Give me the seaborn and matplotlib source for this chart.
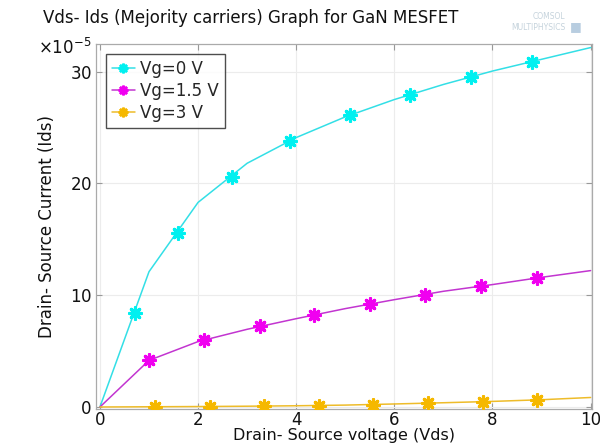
import matplotlib
matplotlib.use("Agg")
import matplotlib.pyplot as plt
import seaborn as sns
import pandas as pd
import numpy as np
from matplotlib.lines import Line2D
from matplotlib.ticker import ScalarFormatter

# ---- data (current in units of 1e-5) ----
line_vds = [0, 1, 2, 3, 4, 5, 6, 7, 8, 9, 10]
ids_vg0_line = [0, 12.1, 18.3, 21.8, 24.1, 25.95, 27.5, 28.85, 30.05, 31.1, 32.15]
ids_vg15_line = [0, 4.17, 5.85, 6.95, 7.9, 8.8, 9.6, 10.35, 10.95, 11.6, 12.2]
ids_vg3_line = [0, 0.02, 0.04, 0.07, 0.11, 0.17, 0.27, 0.38, 0.5, 0.65, 0.85]

mk_vg0_x = [0.72, 1.59, 2.69, 3.87, 5.09, 6.32, 7.56, 8.80]
mk_vg0_y = [8.4, 15.6, 20.6, 23.8, 26.1, 27.95, 29.55, 30.9]
mk_vg15_x = [1.01, 2.13, 3.26, 4.37, 5.50, 6.63, 7.76, 8.90]
mk_vg15_y = [4.17, 5.95, 7.2, 8.27, 9.22, 10.05, 10.8, 11.5]
mk_vg3_x = [1.13, 2.24, 3.35, 4.46, 5.57, 6.68, 7.80, 8.91]
mk_vg3_y = [0.02, 0.04, 0.08, 0.13, 0.22, 0.34, 0.48, 0.63]

series_names = ["Vg=0 V", "Vg=1.5 V", "Vg=3 V"]
line_colors = ["#33dfe6", "#c235d0", "#eebc2a"]
marker_colors = ["#00f0f0", "#f000f0", "#f5b800"]
x_ticks = [0, 2, 4, 6, 8, 10]
y_ticks = [0, 10, 20, 30]
SCALE = 1e-5

sns.set_style("white")
plt.rcParams['font.family'] = ['DejaVu Sans']

fig = plt.figure(figsize=(6.0, 4.47), dpi=100)
ax = fig.add_axes([0.16, 0.0845, 0.826, 0.8171])

lines = [ids_vg0_line, ids_vg15_line, ids_vg3_line]
mks = [(mk_vg0_x, mk_vg0_y), (mk_vg15_x, mk_vg15_y), (mk_vg3_x, mk_vg3_y)]
marker = (8, 2, 0)
handles = []
for name, lc, mc, ly, (mx, my) in zip(series_names, line_colors, marker_colors, lines, mks):
    df = pd.DataFrame({"x": line_vds, "y": np.array(ly) * SCALE})
    sns.lineplot(data=df, x="x", y="y", ax=ax, color=lc, linewidth=1.1, zorder=3)
    dm = pd.DataFrame({"x": mx, "y": np.array(my) * SCALE})
    sns.scatterplot(data=dm, x="x", y="y", ax=ax, marker=marker, s=70,
                    color=mc, edgecolor=mc, linewidth=2.3, zorder=4)
    handles.append(Line2D([0], [0], color=lc, lw=1.1, marker=marker, markersize=7,
                          markeredgecolor=mc, markerfacecolor=mc, markeredgewidth=1.8,
                          label=name))

ax.set_xlim(-0.08, 10.02)
ax.set_ylim(-0.2 * SCALE, 32.47 * SCALE)
ax.set_xticks(x_ticks)
ax.set_yticks([v * SCALE for v in y_ticks])
fmt = ScalarFormatter(useMathText=True)
fmt.set_powerlimits((-5, -5))
ax.yaxis.set_major_formatter(fmt)
ax.yaxis.get_offset_text().set_visible(False)
fig.text(0.063, 0.892, r"$\times$10$^{-5}$", fontsize=12, color="#111111",
         ha="left", va="center")

ax.grid(True, color="#ececec", linewidth=0.8)
ax.set_axisbelow(True)
ax.tick_params(axis="both", which="both", direction="in", length=4, width=0.8,
               colors="#999999", labelcolor="#111111", labelsize=12,
               top=True, right=True, bottom=True, left=True, pad=3)
ax.tick_params(axis="x", pad=1.5)
for s in ax.spines.values():
    s.set_color("#aaaaaa")
    s.set_linewidth(0.9)

ax.set_xlabel("Drain- Source voltage (Vds)", fontsize=11.5, color="#111111", labelpad=-1)
ax.set_ylabel("Drain- Source Current (Ids)", fontsize=12, color="#111111", labelpad=10)

leg = ax.legend(handles=handles, loc="upper left", bbox_to_anchor=(0.02, 0.973),
                fontsize=12, frameon=True, fancybox=False, handlelength=1.4,
                handletextpad=0.3, labelspacing=0.25, borderpad=0.35, borderaxespad=0.0)
leg.get_frame().set_edgecolor("#222222")
leg.get_frame().set_linewidth(1.0)

fig.text(0.072, 0.948, "Vds- Ids (Mejority carriers) Graph for GaN MESFET",
         fontsize=12, color="#111111", ha="left", va="baseline")
fig.text(0.942, 0.958, "COMSOL", fontsize=5.5, color="#c5d3dc", ha="right")
fig.text(0.942, 0.932, "MULTIPHYSICS", fontsize=5.5, color="#c5d3dc", ha="right")
fig.text(0.950, 0.932, "\u25A0", fontsize=9, color="#b8cde0", ha="left")

fig.savefig("out.png", dpi=100)
